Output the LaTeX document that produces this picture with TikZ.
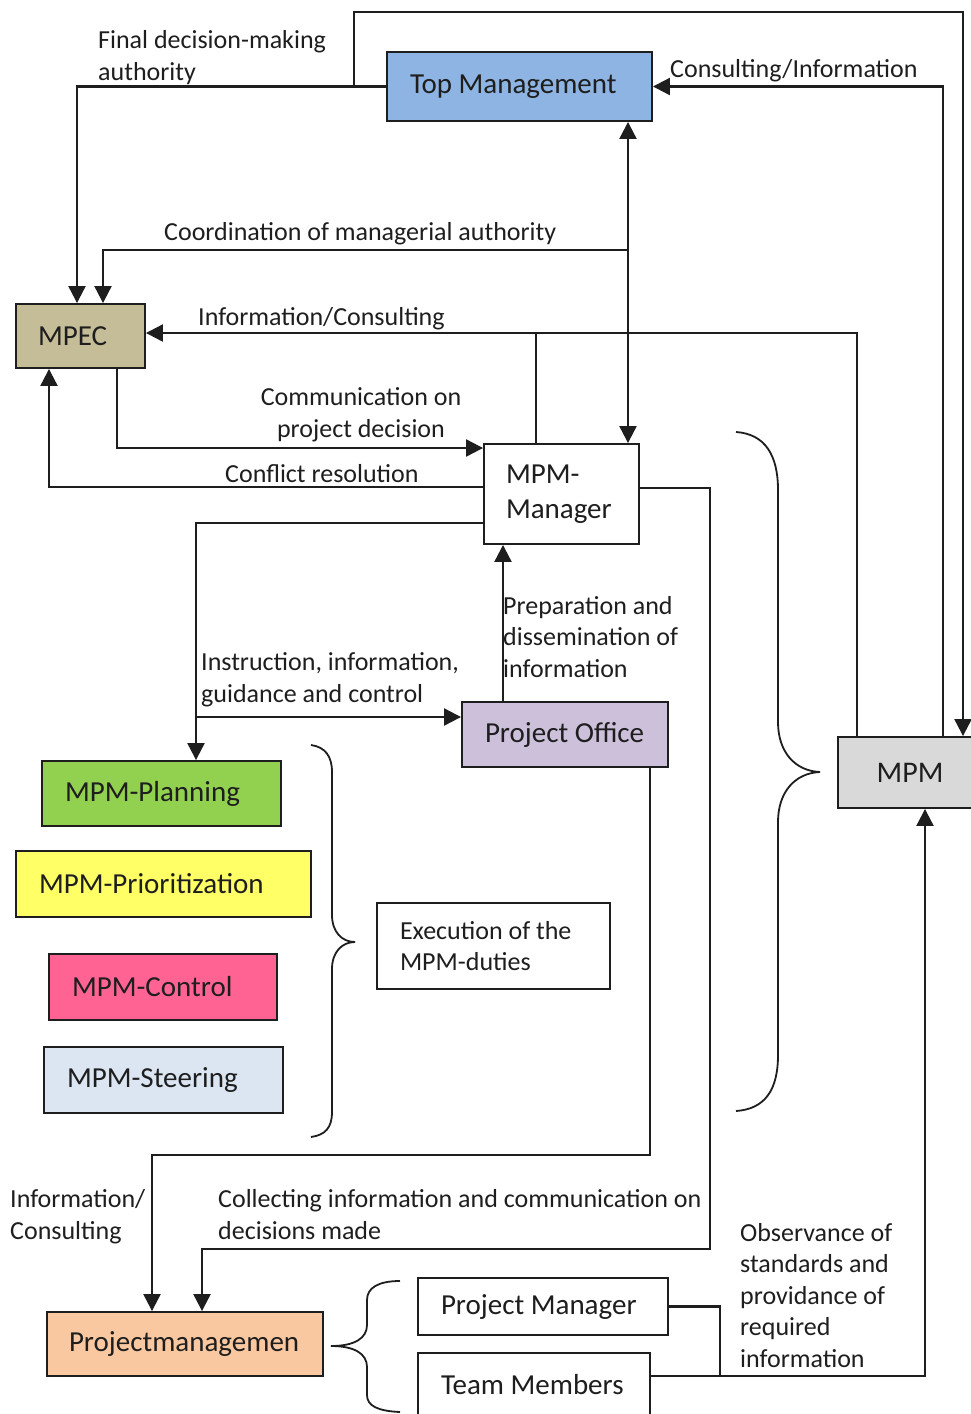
\documentclass[tikz,border=0pt]{standalone}
\usepackage{fontspec}
\setmainfont{Carlito}
\usetikzlibrary{arrows.meta}

\definecolor{tmblue}{HTML}{8DB4E2}
\definecolor{mpectan}{HTML}{C4BD97}
\definecolor{polilac}{HTML}{CCC0DA}
\definecolor{mpmgray}{HTML}{D9D9D9}
\definecolor{plangreen}{HTML}{92D050}
\definecolor{prioyellow}{HTML}{FFFF66}
\definecolor{ctrlpink}{HTML}{FF6394}
\definecolor{steerblue}{HTML}{DCE6F2}
\definecolor{pmpeach}{HTML}{FAC8A0}
\definecolor{ink}{HTML}{1E1E1E}

\begin{document}
\begin{tikzpicture}[x=1pt,y=-1pt,
  font=\fontsize{26}{31.5}\selectfont, text=ink,
  box/.style={draw=ink, line width=1.9pt, inner xsep=23pt, inner ysep=0pt,
              align=flush left, font=\fontsize{29}{35}\selectfont},
  lbl/.style={inner sep=0pt, align=left, anchor=base west},
  link/.style={draw=ink, line width=2.2pt},
  arr/.style={link, -{Triangle[length=17pt,width=17pt]}},
  arrboth/.style={link, {Triangle[length=17pt,width=17pt]}-{Triangle[length=17pt,width=17pt]}},
  bracepath/.style={draw=ink, line width=1.8pt}]

\useasboundingbox (0,0) rectangle (971,1414);
\clip (0,0) rectangle (971,1414);

% boxes
\node[box, fill=tmblue, text width=219pt, minimum height=69pt] (TM) at (519.5,86.5) {Top Management};
\node[box, fill=mpectan, text width=85pt, inner xsep=22pt, minimum height=64pt] (MPEC) at (80.5,336) {MPEC};
\node[box, fill=white, text width=111pt, inner xsep=22pt, minimum height=100pt] (MGR) at (561.5,494) {MPM-\\Manager};
\node[box, fill=polilac, text width=160pt, minimum height=65pt] (PO) at (565,734.5) {Project Office};
\node[box, fill=mpmgray, align=center, inner xsep=0pt, minimum width=144pt, minimum height=71pt,
      font=\fontsize{30}{36}\selectfont] (MPM) at (910,772.5) {MPM};
\node[box, fill=plangreen, text width=193pt, minimum height=65pt] (PLAN) at (161.5,793.5) {MPM-Planning};
\node[box, fill=prioyellow, text width=249pt, minimum height=66pt] (PRIO) at (163.5,884) {MPM-Prioritization};
\node[box, fill=ctrlpink, text width=182pt, minimum height=66pt] (CTRL) at (163,987) {MPM-Control};
\node[box, fill=steerblue, text width=193pt, minimum height=66pt] (STEER) at (163.5,1080) {MPM-Steering};
\node[box, fill=white, text width=187pt, minimum height=86pt,
      font=\fontsize{26}{31.5}\selectfont] (EXEC) at (493.5,946) {Execution of the\\MPM-duties};
\node[box, fill=pmpeach, text width=232pt, inner xsep=22pt, minimum height=64pt] (PM) at (185,1344) {Projectmanagemen};
\node[box, fill=white, text width=204pt, minimum height=57pt] (PMGR) at (543,1306.5) {Project Manager};
\node[box, fill=white, text width=186pt, minimum height=63pt] (TEAM) at (534,1384.5) {Team Members};

% connectors
\coordinate (topR) at (963,12);
\draw[arr] (TM.west) -| (MPEC.north -| 77,0);
\draw[arr] (TM.west -| 354,0) |- (topR) -- (MPM.north -| topR);
\draw[arr] (MPM.north -| 943,0) |- (TM.east);
\draw[arrboth] (TM.south -| 628,0) -- (MGR.north -| 628,0);
\draw[arr] (628,250) -| (MPEC.north -| 103,0);
\draw[arr] (MPM.north -| 857,0) |- ([yshift=3pt]MPEC.east);
\draw[link] (536,333) -- (MGR.north -| 536,0);
\draw[arr] (MPEC.south -| 117,0) |- ([yshift=46pt]MGR.west);
\draw[arr] ([yshift=7pt]MGR.west) -| (MPEC.south -| 49,0);
\draw[arr] ([yshift=-29pt]MGR.west) -| (PLAN.north -| 196,0);
\draw[arr] (196,717) -- (PO.west |- 0,717);
\draw[arr] (PO.north -| 503,0) -- (MGR.south -| 503,0);
\draw[arr] ([yshift=6pt]MGR.east) -| (710,1249) -| (PM.north -| 202,0);
\draw[arr] (PO.south -| 650,0) |- (152,1155) -- (PM.north -| 152,0);
\draw[link] (PMGR.east) -| (720,1376);
\draw[arr] (TEAM.east |- 0,1376) -| (MPM.south -| 925,0);

% braces
\draw[bracepath] (736,432) .. controls (765,434) and (778,455) .. (778,490) -- (778,722)
  .. controls (778,752) and (795,771) .. (820,772) .. controls (795,773) and (778,792) .. (778,822)
  -- (778,1055) .. controls (778,1090) and (765,1109) .. (736,1111);
\draw[bracepath] (311,745) .. controls (325,747) and (332,756) .. (332,772) -- (332,915)
  .. controls (332,932) and (342,942) .. (355,942) .. controls (342,942) and (332,952) .. (332,969)
  -- (332,1112) .. controls (332,1128) and (325,1135) .. (311,1137);
\draw[bracepath] (400,1281) .. controls (378,1281) and (367,1288) .. (367,1300) -- (367,1325)
  .. controls (367,1338) and (355,1346) .. (331,1346) .. controls (355,1346) and (367,1354) .. (367,1367)
  -- (367,1395) .. controls (367,1406) and (378,1411) .. (400,1412);

% labels (positioned at the baseline of their last line)
\node[lbl] (lFinal) at (98,80) {Final decision-making\\authority};
\node[lbl] (lConsInfo) at (670,77) {Consulting/Information};
\node[lbl] (lCoord) at (164,240) {Coordination of managerial authority};
\node[lbl] (lInfoCons) at (198,325) {Information/Consulting};
\node[lbl, align=center, anchor=base] (lComm) at (361,437) {Communication on\\project decision};
\node[lbl] (lConfl) at (225,482) {Conflict resolution};
\node[lbl] (lInstr) at (201,702) {Instruction, information,\\guidance and control};
\node[lbl] (lPrep) at (503,677) {Preparation and\\dissemination of\\information};
\node[lbl] (lInfoCons2) at (10,1239) {Information/\\Consulting};
\node[lbl] (lColl) at (218,1239) {Collecting information and communication on\\decisions made};
\node[lbl] (lObs) at (740,1367) {Observance of\\standards and\\providance of\\required\\information};
\end{tikzpicture}
\end{document}
